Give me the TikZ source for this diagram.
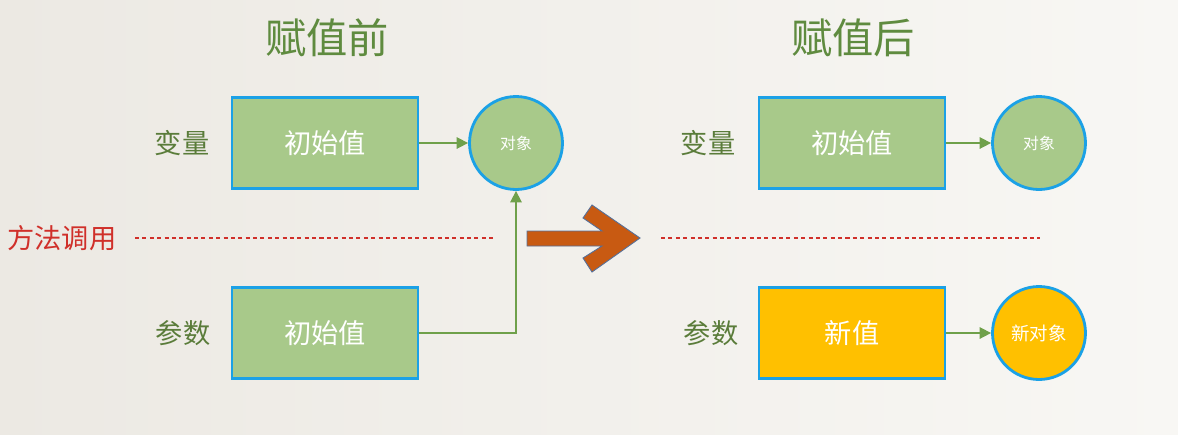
\documentclass[tikz,border=0pt]{standalone}
\usepackage{fontspec}
\setmainfont{Noto Sans CJK SC}
\usetikzlibrary{arrows.meta}
\definecolor{bgleft}{HTML}{ECE9E3}
\definecolor{bgright}{HTML}{F8F7F4}
\definecolor{boxgreen}{HTML}{A8C98A}
\definecolor{boxorange}{HTML}{FFC000}
\definecolor{boxblue}{HTML}{1BA1E6}
\definecolor{linkgreen}{HTML}{6FA04A}
\definecolor{titlegreen}{HTML}{5F8B3F}
\definecolor{lblgreen}{HTML}{5A7C3A}
\definecolor{callred}{HTML}{D0302A}
\definecolor{bigarrow}{HTML}{C85A12}
\definecolor{bigedge}{HTML}{55709A}
\begin{document}
\begin{tikzpicture}[x=0.02cm,y=-0.02cm,
  box/.style={draw=boxblue,line width=1.6pt,fill=boxgreen,minimum width=3.72cm,minimum height=1.82cm,inner sep=0pt,text=white,font=\fontsize{15.5}{18}\selectfont},
  obj/.style={circle,draw=boxblue,line width=1.6pt,fill=boxgreen,minimum size=1.86cm,inner sep=0pt,text=white,font=\fontsize{9}{11}\selectfont},
  lbl/.style={text=lblgreen,font=\fontsize{15.5}{18}\selectfont},
  title/.style={text=titlegreen,font=\fontsize{23.5}{28}\selectfont},
  link/.style={draw=linkgreen,line width=0.9pt,-{Triangle[length=6.5pt,width=6.5pt]}},
  divide/.style={draw=callred,line width=0.6pt,dash pattern=on 2.3pt off 1.9pt}]
\shade[left color=bgleft,right color=bgright] (0,0) rectangle (1178,434);
\useasboundingbox (0,0) rectangle (1178,434);
% before
\node[title] (t1) at (327,38) {赋值前};
\node[lbl] (v1) at (182,143) {变量};
\node[lbl] (a1) at (183,333) {参数};
\node[box] (b1) at (325,143) {初始值};
\node[box] (p1) at (325,333) {初始值};
\node[obj] (o1) at (516,143) {对象};
\draw[link] (b1.east) -- (o1.west);
\draw[link] (p1.east) -| (o1.south);
\node[text=callred,font=\fontsize{15.5}{18}\selectfont] (call) at (62,238) {方法调用};
\coordinate (d1) at (135,238);
\coordinate (d2) at (493,238);
\draw[divide] (d1) -- (d2);
% big arrow
\draw[fill=bigarrow,draw=bigedge,line width=0.5pt] (527,231) -- (602,231) -- (583,218) -- (592,205) -- (640,238) -- (592,272) -- (583,258) -- (602,246) -- (527,246) -- cycle;
% after
\node[title] (t2) at (853,38) {赋值后};
\node[lbl] (v2) at (708,143) {变量};
\node[lbl] (a2) at (711,333) {参数};
\node[box] (b2) at (852,143) {初始值};
\node[box,fill=boxorange] (p2) at (852,333) {新值};
\node[obj] (o2) at (1039,143) {对象};
\node[obj,fill=boxorange,font=\fontsize{10.5}{12}\selectfont] (o3) at (1039,333) {新对象};
\draw[link] (b2.east) -- (o2.west);
\draw[link] (p2.east) -- (o3.west);
\coordinate (d3) at (661,238);
\coordinate (d4) at (1040,238);
\draw[divide] (d3) -- (d4);
\end{tikzpicture}
\end{document}
